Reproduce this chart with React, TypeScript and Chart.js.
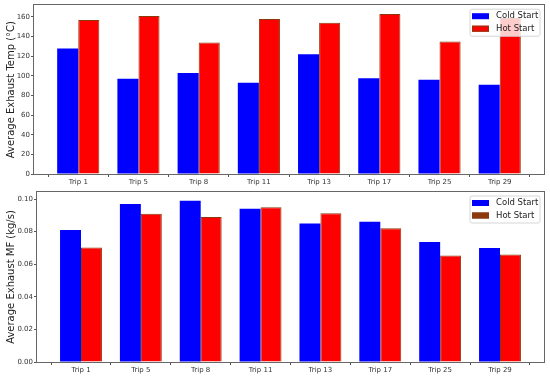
import React, { useEffect, useRef } from "react";
import { Chart, registerables } from "chart.js";

Chart.register(...registerables);

const trips = ["Trip 1", "Trip 5", "Trip 8", "Trip 11", "Trip 13", "Trip 17", "Trip 25", "Trip 29"];
const seriesLabels = ["Cold Start", "Hot Start"];

const tempCold = [128, 97, 103, 93, 122, 97.5, 96, 91];
const tempHot = [157, 161, 134, 158, 154, 163, 135, 159];
const tempTicks = [0, 20, 40, 60, 80, 100, 120, 140, 160];

const mfCold = [0.081, 0.097, 0.099, 0.094, 0.085, 0.086, 0.0736, 0.07];
const mfHot = [0.0703, 0.091, 0.089, 0.095, 0.0912, 0.082, 0.0653, 0.066];
const mfTicks = [0, 0.02, 0.04, 0.06, 0.08, 0.1];

const FONT = "'DejaVu Sans', sans-serif";

type PanelProps = {
  cold: number[];
  hot: number[];
  ticks: number[];
  yMax: number;
  title: string;
  fmt: (v: number) => string;
  hotPatch: string;
  top: number;
  height: number;
  areaLeft: number;
  areaTop: number;
  areaBottom: number;
};

const framePlugin = {
  id: "frameAndLegend",
  afterDraw(chart: any, _args: any, opts: any) {
    const { ctx, chartArea } = chart;
    const { left, right, top, bottom } = chartArea;
    ctx.save();
    // frame
    ctx.strokeStyle = "#666";
    ctx.lineWidth = 1;
    ctx.strokeRect(Math.round(left) - 0.5, Math.round(top) - 0.5, Math.round(right - left) + 1, Math.round(bottom - top) + 1);
    // legend
    const bw = 70;
    const bh = 27;
    const bx = right - 4 - bw;
    const by = top + 4;
    const r = 2;
    ctx.beginPath();
    ctx.moveTo(bx + r, by);
    ctx.lineTo(bx + bw - r, by);
    ctx.quadraticCurveTo(bx + bw, by, bx + bw, by + r);
    ctx.lineTo(bx + bw, by + bh - r);
    ctx.quadraticCurveTo(bx + bw, by + bh, bx + bw - r, by + bh);
    ctx.lineTo(bx + r, by + bh);
    ctx.quadraticCurveTo(bx, by + bh, bx, by + bh - r);
    ctx.lineTo(bx, by + r);
    ctx.quadraticCurveTo(bx, by, bx + r, by);
    ctx.closePath();
    ctx.fillStyle = "rgba(255,255,255,0.8)";
    ctx.fill();
    ctx.strokeStyle = "#d6d6d6";
    ctx.stroke();
    chart.data.datasets.forEach((ds: any, i: number) => {
      const cy = by + 7 + i * 12.5;
      ctx.fillStyle = i === 1 ? opts.hotPatch : ds.backgroundColor;
      ctx.fillRect(bx + 2, cy - 3, 17, 6);
      if (ds.borderWidth) {
        ctx.strokeStyle = ds.borderColor;
        ctx.lineWidth = 1;
        ctx.strokeRect(bx + 2.5, cy - 2.5, 16, 5);
      }
      ctx.fillStyle = "#222";
      ctx.font = `8.5px ${FONT}`;
      ctx.textBaseline = "middle";
      ctx.textAlign = "left";
      ctx.fillText(ds.label, bx + 26, cy);
    });
    ctx.restore();
  },
};

function Panel(p: PanelProps) {
  const ref = useRef<HTMLCanvasElement | null>(null);
  useEffect(() => {
    if (!ref.current) return;
    const chart = new Chart(ref.current, {
      type: "bar",
      data: {
        datasets: [
          {
            label: seriesLabels[0],
            data: p.cold.map((v, i) => ({ x: i, y: v })),
            backgroundColor: "#0000ff",
            borderWidth: 0,
          },
          {
            label: seriesLabels[1],
            data: p.hot.map((v, i) => ({ x: i, y: v })),
            backgroundColor: "#ff0000",
            borderColor: "#8b3a0e",
            borderWidth: 1,
          },
        ],
      },
      options: {
        animation: false,
        responsive: false,
        maintainAspectRatio: false,
        devicePixelRatio: 1,
        layout: { padding: { left: 0, right: 550 - 544, top: p.areaTop, bottom: 0 } },
        datasets: { bar: { categoryPercentage: 0.7, barPercentage: 1.0, grouped: true } },
        plugins: {
          legend: { display: false },
          tooltip: { enabled: false },
          frameAndLegend: { hotPatch: p.hotPatch },
        } as any,
        scales: {
          x: {
            type: "linear",
            min: -0.735,
            max: 7.735,
            offset: false,
            afterBuildTicks: (scale: any) => {
              scale.ticks = trips.map((_, i) => ({ value: i }));
            },
            afterFit: (scale: any) => {
              scale.height = p.height - p.areaBottom;
            },
            grid: { display: true, drawOnChartArea: false, drawTicks: true, tickLength: 3, tickColor: "#555" },
            border: { display: false },
            ticks: {
              autoSkip: false,
              maxRotation: 0,
              padding: 1,
              color: "#333",
              font: { family: FONT, size: 7 },
              callback: (v: any) => trips[Math.round(Number(v))] ?? "",
            },
          },
          y: {
            type: "linear",
            min: 0,
            max: p.yMax,
            afterBuildTicks: (scale: any) => {
              scale.ticks = p.ticks.map((v) => ({ value: v }));
            },
            afterFit: (scale: any) => {
              scale.width = p.areaLeft;
            },
            grid: { display: true, drawOnChartArea: false, drawTicks: true, tickLength: 3, tickColor: "#555" },
            border: { display: false },
            ticks: {
              padding: 1,
              color: "#333",
              font: { family: FONT, size: 7 },
              callback: (v: any) => p.fmt(Number(v)),
            },
            title: {
              display: true,
              text: p.title,
              color: "#222",
              font: { family: FONT, size: 10 },
              padding: { top: 5, bottom: 0 },
            },
          },
        },
      } as any,
      plugins: [framePlugin],
    });
    return () => chart.destroy();
  }, []);
  return (
    <canvas
      ref={ref}
      width={550}
      height={p.height}
      style={{ position: "absolute", left: 0, top: p.top, width: 550, height: p.height }}
    />
  );
}

export default function App() {
  return (
    <div style={{ position: "absolute", left: 0, top: 0, width: 550, height: 377, background: "#fff" }}>
      <Panel
        cold={tempCold}
        hot={tempHot}
        ticks={tempTicks}
        yMax={172}
        title="Average Exhaust Temp (°C)"
        fmt={(v) => String(v)}
        hotPatch="#ff0000"
        top={0}
        height={190}
        areaLeft={34}
        areaTop={4}
        areaBottom={174}
      />
      <Panel
        cold={mfCold}
        hot={mfHot}
        ticks={mfTicks}
        yMax={0.1043}
        title="Average Exhaust MF (kg/s)"
        fmt={(v) => v.toFixed(2)}
        hotPatch="#8b3a0e"
        top={185}
        height={192}
        areaLeft={37}
        areaTop={7}
        areaBottom={177}
      />
    </div>
  );
}
